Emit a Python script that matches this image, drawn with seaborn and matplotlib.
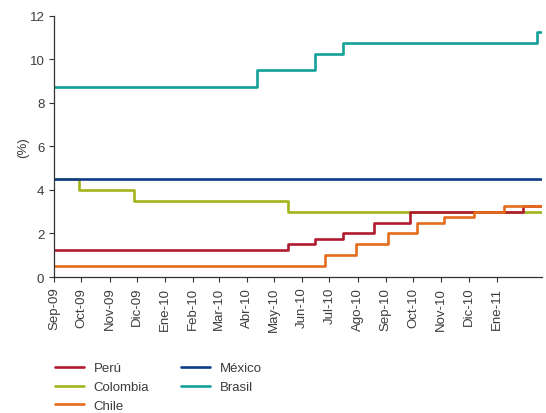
import matplotlib
matplotlib.use("Agg")
import matplotlib.pyplot as plt
import numpy as np
import pandas as pd
import seaborn as sns

START = "2009-09-01"
END = "2011-02-20"

# policy rate change dates (first value = level at start) and levels
peru_dates = [START, "2010-05-16", "2010-06-15", "2010-07-16", "2010-08-19",
              "2010-09-28", "2011-01-30"]
peru_rates = [1.25, 1.5, 1.75, 2.0, 2.5, 3.0, 3.25]

colombia_dates = [START, "2009-09-28", "2009-11-28", "2010-05-16"]
colombia_rates = [4.5, 4.0, 3.5, 3.0]

chile_dates = [START, "2010-06-26", "2010-07-30", "2010-09-03", "2010-10-05",
               "2010-11-04", "2010-12-07", "2011-01-09"]
chile_rates = [0.5, 1.0, 1.5, 2.0, 2.5, 2.75, 3.0, 3.25]

mexico_dates = [START]
mexico_rates = [4.5]

brasil_dates = [START, "2010-04-12", "2010-06-15", "2010-07-16", "2011-02-14"]
brasil_rates = [8.75, 9.5, 10.25, 10.75, 11.25]

tick_labels = ["Sep-09", "Oct-09", "Nov-09", "Dic-09", "Ene-10", "Feb-10",
               "Mar-10", "Abr-10", "May-10", "Jun-10", "Jul-10", "Ago-10",
               "Sep-10", "Oct-10", "Nov-10", "Dic-10", "Ene-11"]

series = {
    "Perú": (peru_dates, peru_rates, "#b01a2e"),
    "Colombia": (colombia_dates, colombia_rates, "#a2b41c"),
    "Chile": (chile_dates, chile_rates, "#e46c1c"),
    "México": (mexico_dates, mexico_rates, "#0d3b86"),
    "Brasil": (brasil_dates, brasil_rates, "#12a098"),
}
draw_order = ["Colombia", "Perú", "Chile", "México", "Brasil"]
legend_order = ["Perú", "Colombia", "Chile", "México", "Brasil"]


def to_frame(dates, rates):
    # repeat the last level up to the end of the axis
    d = pd.to_datetime(list(dates) + [END])
    r = list(rates) + [rates[-1]]
    return pd.DataFrame({"fecha": d, "tasa": r})


sns.set_style("ticks")
plt.rcParams["font.family"] = ["Liberation Sans", "DejaVu Sans"]
text_color = "#3c3c3c"
fs = 9.5

fig = plt.figure(figsize=(5.46, 4.14), dpi=100)
ax = fig.add_axes([0.099, 0.3285, 0.894, 0.6305])

handles = {}
for name in draw_order:
    dates, rates, color = series[name]
    df = to_frame(dates, rates)
    sns.lineplot(data=df, x="fecha", y="tasa", ax=ax, color=color,
                 linewidth=1.9, drawstyle="steps-post", label=name)
    handles[name] = ax.lines[-1]

ax.set_xlim(pd.Timestamp(START), pd.Timestamp(END))
ax.set_ylim(0, 12)
ax.set_yticks(np.arange(0, 13, 2))
ticks = pd.date_range(START, periods=len(tick_labels), freq="MS")
ax.set_xticks(ticks)
ax.set_xticklabels(tick_labels, rotation=90)

ax.set_xlabel("")
ax.set_ylabel("(%)", color=text_color, fontsize=fs, labelpad=0)
ax.tick_params(axis="both", colors="#333333", labelcolor=text_color,
               labelsize=fs, length=3.5, width=0.8, direction="out")
for side in ["top", "right"]:
    ax.spines[side].set_visible(False)
for side in ["left", "bottom"]:
    ax.spines[side].set_color("#333333")
    ax.spines[side].set_linewidth(0.9)

ax.get_legend().remove()
fig.legend([handles[n] for n in legend_order], legend_order,
           loc="upper left", bbox_to_anchor=(0.1, 0.123), ncol=2,
           frameon=False, fontsize=fs, labelcolor=text_color,
           handlelength=2.2, handletextpad=0.75, columnspacing=2.4,
           labelspacing=0.5, borderpad=0, borderaxespad=0)

fig.savefig("out.png", dpi=100)
